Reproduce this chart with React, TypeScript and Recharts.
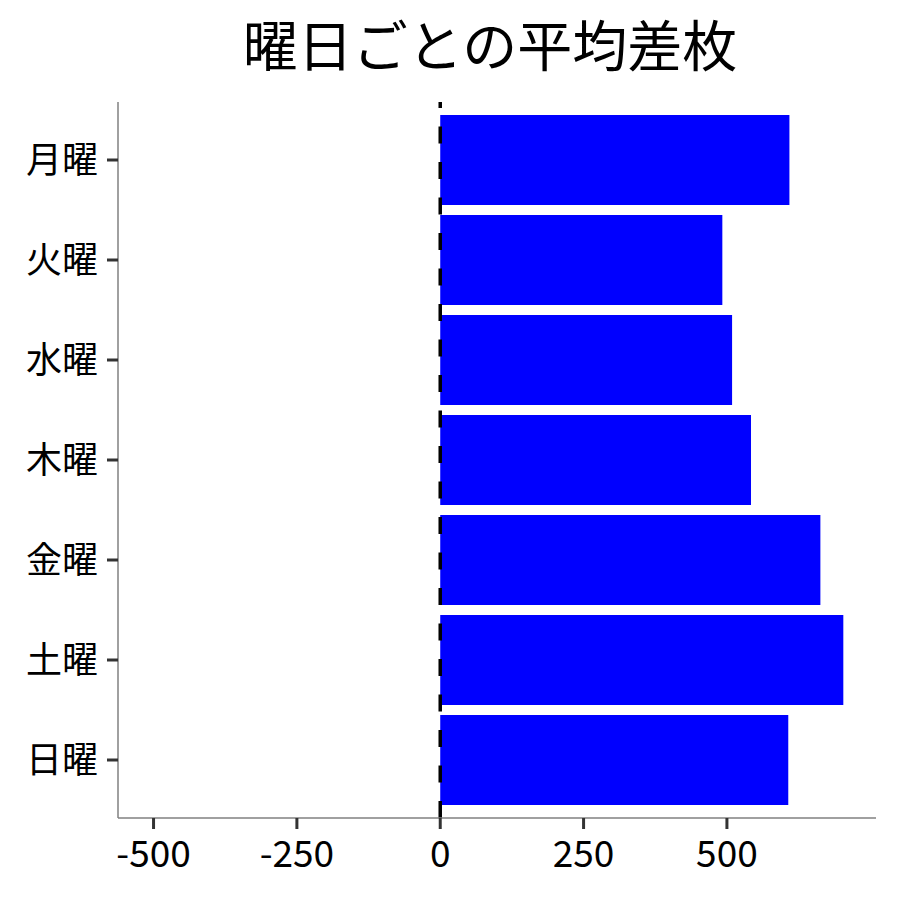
import { BarChart, Bar, XAxis, YAxis, ReferenceLine } from 'recharts'

const days = ['月曜', '火曜', '水曜', '木曜', '金曜', '土曜', '日曜']
const avgDiff = [609, 492, 509, 542, 663, 703, 607]
const xTicks = [-500, -250, 0, 250, 500]

const FONT = '"Noto Sans CJK JP", "Noto Sans", sans-serif'

export default function App() {
  const data = days.map((day, i) => ({ day, value: avgDiff[i] }))

  return (
    <div style={{ position: 'absolute', left: 0, top: 0, width: 900, height: 900, background: '#fff', fontFamily: FONT }}>
      <div
        style={{
          position: 'absolute',
          left: 104,
          width: 772,
          top: 4,
          textAlign: 'center',
          fontSize: 55,
          lineHeight: '76px',
          color: '#000',
        }}
      >
        曜日ごとの平均差枚
      </div>
      <BarChart
        width={900}
        height={900}
        data={data}
        layout="vertical"
        margin={{ top: 102, right: 24, bottom: 0, left: 0 }}
        barSize={90}
      >
        <XAxis
          type="number"
          domain={[-562, 760]}
          ticks={xTicks}
          allowDataOverflow
          height={82}
          axisLine={{ stroke: '#808080', strokeWidth: 1.5 }}
          tickLine={{ stroke: '#333', strokeWidth: 3 }}
          tickSize={11}
          tickMargin={12}
          tick={{ fill: '#000', fontSize: 37, fontFamily: FONT }}
        />
        <YAxis
          type="category"
          dataKey="day"
          width={118}
          padding={{ top: 8, bottom: 8 }}
          axisLine={{ stroke: '#808080', strokeWidth: 1.5 }}
          tickLine={{ stroke: '#333', strokeWidth: 3 }}
          tickSize={11}
          tickMargin={9}
          tick={{ fill: '#000', fontSize: 36, fontFamily: FONT }}
        />
        <Bar dataKey="value" fill="#0000ff" isAnimationActive={false} />
        <ReferenceLine x={0} stroke="#000" strokeWidth={3.5} strokeDasharray="17 18.5" />
      </BarChart>
    </div>
  )
}
